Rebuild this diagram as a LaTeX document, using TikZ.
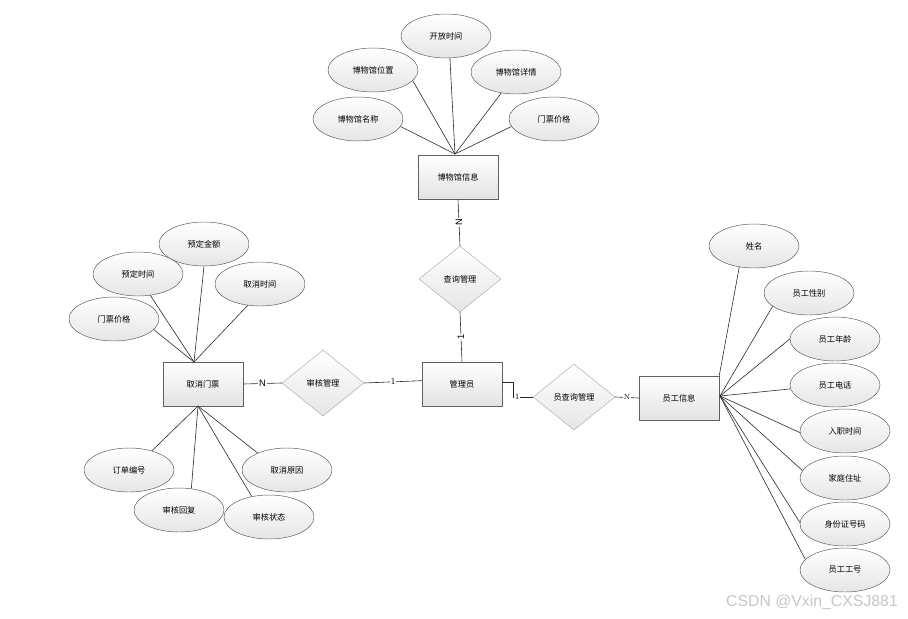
\documentclass[tikz,border=0pt]{standalone}
\usepackage{fontspec}
\newfontfamily\cjk{Noto Sans CJK SC}
\newfontfamily\wmfont{Liberation Sans}
\usetikzlibrary{shapes.geometric,shadows}

\tikzset{
  attr/.style={ellipse,draw=gray!70!black,top color=white,bottom color=gray!20,
    minimum width=2.7cm,minimum height=1.32cm,inner sep=0pt,font=\cjk\fontsize{7}{8}\selectfont},
  entity/.style={rectangle,draw=gray!75!black,top color=white,bottom color=gray!22,
    minimum width=2.4cm,minimum height=1.33cm,inner sep=0pt,font=\cjk\fontsize{7}{8}\selectfont,
    drop shadow={shadow xshift=0.8pt,shadow yshift=-0.8pt,fill=gray!35}},
  rel/.style={diamond,draw=gray!65,top color=white,bottom color=gray!20,
    minimum width=2.46cm,minimum height=1.98cm,inner sep=0pt,font=\cjk\fontsize{7}{8}\selectfont},
  card/.style={fill=white,inner sep=0.6pt,font=\wmfont\fontsize{8}{9}\selectfont},
  link/.style={draw=black!85,line width=0.5pt}
}

\begin{document}
\begin{tikzpicture}[x=0.03cm,y=-0.03cm]
\useasboundingbox (0,0) rectangle (908,618);

% entities
\node[entity] (bwg) at (458,177) {博物馆信息};
\node[entity] (qxmp) at (203,384) {取消门票};
\node[entity] (gly) at (462,384) {管理员};
\node[entity] (ygxx) at (679,398) {员工信息};

% relations
\node[rel] (cxgl) at (460,279) {查询管理};
\node[rel] (shgl) at (323,383) {审核管理};
\node[rel] (ycxgl) at (574,397) {员查询管理};

% museum attributes
\node[attr] (kfsj) at (446,36) {开放时间};
\node[attr] (bwgwz) at (373,70) {博物馆位置};
\node[attr] (bwgxq) at (516,72) {博物馆详情};
\node[attr] (bwgmc) at (358,119) {博物馆名称};
\node[attr] (mpjg1) at (554,119) {门票价格};
\coordinate (bwgtop) at (455,154);
\foreach \a/\ang in {kfsj/280,bwgwz/345,bwgxq/235,bwgmc/350,mpjg1/190}
  \draw[link] (\a.\ang) -- (bwgtop);

% cancel ticket attributes
\node[attr] (ydje) at (204,244) {预定金额};
\node[attr] (ydsj) at (138,274) {预定时间};
\node[attr] (qxsj) at (260,284) {取消时间};
\node[attr] (mpjg2) at (114,319) {门票价格};
\coordinate (qxtop) at (194,362);
\foreach \a/\ang in {ydje/270,ydsj/300,qxsj/240,mpjg2/345}
  \draw[link] (\a.\ang) -- (qxtop);

\node[attr] (ddbh) at (129,470) {订单编号};
\node[attr] (shhf) at (179,510) {审核回复};
\node[attr] (qxyy) at (287,470) {取消原因};
\node[attr] (shzt) at (269,517) {审核状态};
\coordinate (qxbot) at (198,406);
\foreach \a/\ang in {ddbh/40,shhf/60,qxyy/150,shzt/130}
  \draw[link] (\a.\ang) -- (qxbot);

% staff attributes
\node[attr] (xm) at (754,246) {姓名};
\node[attr] (ygxb) at (809,293) {员工性别};
\node[attr] (ygnl) at (835,339) {员工年龄};
\node[attr] (ygdh) at (835,385) {员工电话};
\node[attr] (rzsj) at (845,431) {入职时间};
\node[attr] (jtzz) at (845,478) {家庭住址};
\node[attr] (sfzh) at (845,524) {身份证号码};
\node[attr] (yggh) at (845,570) {员工工号};
\coordinate (ygright) at (720,396);
\draw[link] (xm.235) -- (ygxx.north east);
\foreach \a/\ang in {ygxb/200,ygnl/180,ygdh/185,rzsj/182,jtzz/170,sfzh/178,yggh/165}
  \draw[link] (\a.\ang) -- (ygright);

% relation lines
\draw[link] (bwg.south) -- node[card,rotate=90,pos=0.5] {N} (cxgl.north);
\draw[link] (cxgl.south) -- node[card,rotate=90,pos=0.5] {1} (gly.north);
\draw[link] (qxmp.east) -- node[card] {N} (shgl.west);
\draw[link] (shgl.east) -- node[card,font=\fontsize{8}{9}\selectfont] {1} ([yshift=0.1cm]gly.west);
\draw[link] ([yshift=0.05cm]gly.east) -- ++(11,0) |- node[card,pos=0.6,font=\fontsize{7}{8}\selectfont] {1} (ycxgl.west);
\draw[link] (ycxgl.east) -- node[card,font=\fontsize{6}{7}\selectfont] {N} (ygxx.west);

% watermark
\node[font=\wmfont\fontsize{13.5}{15}\selectfont,text=gray!45] (wm) at (812,602) {CSDN @Vxin\_CXSJ881};
\end{tikzpicture}
\end{document}
